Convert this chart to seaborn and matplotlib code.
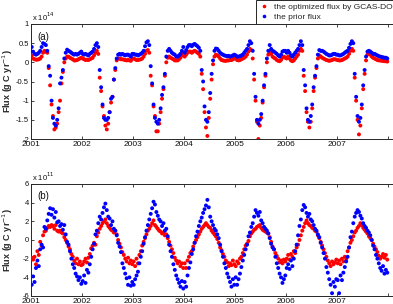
import numpy as np
import pandas as pd
import matplotlib
matplotlib.use("Agg")
import matplotlib.pyplot as plt
from matplotlib.lines import Line2D
from matplotlib.ticker import FuncFormatter, FixedLocator
import seaborn as sns

# ---------------- data ----------------
years = [2001, 2002, 2003, 2004, 2005, 2006, 2007]
bins_per_year = 36  # ~10-day sampling

# panel (a): x 1e14 g C / yr
top_opt = {
    2001: [0.18,0.10,0.08,0.07,0.07,0.08,0.10,0.15,0.25,0.30,0.28,0.25,-0.15,-0.60,-1.10,-1.40,-1.75,-1.70,-1.60,-1.30,-1.00,-0.55,-0.25,0.00,0.10,0.15,0.15,0.12,0.10,0.08,0.05,0.05,0.06,0.08,0.10,0.12],
    2002: [0.10,0.08,0.06,0.07,0.06,0.08,0.10,0.12,0.18,0.25,0.30,0.22,-0.40,-0.75,-1.15,-1.40,-1.65,-1.75,-1.60,-1.30,-1.05,-0.90,-0.45,-0.20,0.05,0.10,0.10,0.08,0.08,0.07,0.06,0.05,0.07,0.05,0.04,0.10],
    2003: [0.10,0.08,0.06,0.06,0.07,0.08,0.10,0.15,0.22,0.30,0.32,0.25,-0.35,-0.60,-1.15,-1.40,-1.80,-1.80,-1.60,-1.30,-0.95,-0.70,-0.35,0.00,0.12,0.15,0.12,0.10,0.08,0.05,0.05,0.05,0.08,0.12,0.18,0.25],
    2004: [0.15,0.20,0.25,0.28,0.28,0.25,0.28,0.30,0.28,0.25,0.22,0.15,-0.30,-0.70,-1.30,-1.70,-1.92,-1.45,-0.95,-0.45,-0.05,0.15,0.20,0.18,0.15,0.10,0.06,0.05,0.04,0.04,0.05,0.05,0.06,0.06,0.08,0.10],
    2005: [0.10,0.06,0.05,0.06,0.08,0.10,0.12,0.15,0.20,0.28,0.35,0.32,0.10,-0.45,-1.00,-1.55,-2.00,-1.65,-1.45,-1.05,-0.65,-0.35,0.00,0.20,0.28,0.22,0.15,0.12,0.10,0.06,0.04,0.03,0.06,0.12,0.15,0.12],
    2006: [0.10,0.15,0.10,0.05,0.03,0.05,0.10,0.15,0.20,0.30,0.35,0.30,-0.35,-0.75,-1.30,-1.55,-1.70,-1.55,-1.20,-0.75,-0.40,-0.15,0.10,0.18,0.15,0.12,0.10,0.08,0.06,0.05,0.04,0.05,0.06,0.08,0.08,0.07],
    2007: [0.06,0.05,0.05,0.06,0.08,0.10,0.12,0.15,0.22,0.30,0.35,0.30,-0.40,-1.00,-1.50,-1.88,-1.65,-1.20,-0.70,-0.30,0.05,0.20,0.22,0.20,0.15,0.12,0.10,0.08,0.06,0.05,0.05,0.04,0.04,0.03,0.03,0.02],
}
top_prior = {
    2001: [0.40,0.28,0.22,0.20,0.22,0.25,0.30,0.40,0.50,0.48,0.45,0.30,-0.10,-0.35,-1.00,-1.45,-1.60,-1.65,-1.50,-1.20,-0.55,-0.40,-0.20,0.10,0.25,0.33,0.30,0.28,0.25,0.22,0.20,0.22,0.20,0.22,0.25,0.28],
    2002: [0.22,0.20,0.22,0.20,0.18,0.22,0.25,0.28,0.35,0.45,0.50,0.40,-0.20,-0.65,-1.10,-1.45,-1.50,-1.50,-1.45,-1.30,-0.95,-0.90,-0.45,-0.15,0.10,0.20,0.22,0.20,0.22,0.20,0.18,0.20,0.20,0.18,0.15,0.22],
    2003: [0.22,0.20,0.20,0.18,0.20,0.22,0.25,0.30,0.42,0.52,0.55,0.45,-0.10,-0.55,-1.10,-1.45,-1.55,-1.60,-1.50,-1.20,-0.85,-0.65,-0.30,0.15,0.30,0.35,0.30,0.25,0.22,0.20,0.15,0.15,0.18,0.22,0.30,0.40],
    2004: [0.25,0.32,0.40,0.45,0.45,0.42,0.46,0.48,0.45,0.42,0.38,0.30,-0.20,-0.50,-1.15,-1.50,-1.55,-1.30,-0.80,-0.30,0.05,0.30,0.36,0.35,0.30,0.25,0.22,0.20,0.18,0.17,0.16,0.17,0.15,0.16,0.18,0.20],
    2005: [0.18,0.15,0.15,0.16,0.18,0.20,0.25,0.30,0.35,0.45,0.55,0.50,0.30,-0.30,-0.90,-1.50,-1.60,-1.50,-1.35,-1.00,-0.60,-0.30,0.10,0.30,0.45,0.35,0.30,0.28,0.25,0.22,0.18,0.15,0.20,0.28,0.30,0.30],
    2006: [0.25,0.30,0.25,0.18,0.15,0.20,0.25,0.30,0.35,0.45,0.55,0.45,-0.20,-0.60,-1.20,-1.50,-1.55,-1.40,-1.10,-0.65,-0.35,-0.10,0.20,0.32,0.30,0.30,0.28,0.25,0.22,0.20,0.18,0.18,0.20,0.22,0.22,0.20],
    2007: [0.20,0.18,0.18,0.20,0.22,0.25,0.28,0.30,0.38,0.48,0.55,0.50,-0.30,-0.90,-1.40,-1.55,-1.45,-1.10,-0.60,-0.20,0.15,0.28,0.30,0.28,0.25,0.22,0.22,0.20,0.18,0.16,0.15,0.14,0.13,0.12,0.12,0.10],
}

# panel (b): x 1e11 g C / yr
bot_opt = {
    2001: [-1.9,-2.1,-1.8,-2.6,-1.2,-1.6,-0.2,-0.6,0.5,0.9,1.0,1.3,1.5,1.4,1.6,1.5,1.2,1.6,1.0,0.9,1.0,0.8,0.7,0.3,0.0,-0.3,-0.7,-1.0,-1.5,-1.8,-2.2,-2.5,-2.0,-2.6,-2.3,-2.7],
    2002: [-2.6,-2.3,-2.0,-2.4,-1.9,-1.5,-0.9,-0.6,-0.3,-0.5,0.4,0.8,1.2,1.5,1.8,2.0,2.2,1.8,1.5,1.3,1.1,1.0,0.8,1.0,0.6,0.0,-0.4,-0.8,-1.3,-1.6,-2.0,-2.3,-1.9,-2.5,-2.2,-2.6],
    2003: [-2.3,-2.8,-2.0,-2.5,-1.6,-1.2,-0.6,-0.2,0.2,0.6,1.0,1.2,1.5,1.8,2.1,1.6,1.4,1.2,1.0,0.9,0.7,0.8,0.5,0.6,0.2,-0.2,-0.6,-1.0,-1.4,-1.9,-2.2,-2.5,-2.3,-2.8,-2.5,-3.0],
    2004: [-2.5,-3.0,-2.2,-1.8,-1.4,-1.2,-0.7,-0.3,0.0,0.3,0.6,0.9,1.2,1.4,1.6,1.8,1.6,1.4,1.3,1.0,0.8,0.6,0.4,0.1,-0.3,-0.8,-1.1,-1.5,-1.8,-2.2,-2.4,-2.8,-2.5,-2.7,-2.2,-2.6],
    2005: [-2.8,-2.3,-2.5,-2.0,-1.8,-1.4,-1.0,-0.6,-0.4,-0.1,0.4,0.7,0.9,1.1,1.2,1.4,1.5,1.6,1.3,1.1,1.0,0.9,0.8,0.7,0.3,-0.2,-0.7,-1.0,-1.4,-1.7,-2.0,-2.4,-2.2,-2.5,-2.1,-2.3],
    2006: [-2.0,-1.6,-2.1,-1.5,-1.8,-1.2,-1.4,-0.8,-0.5,0.0,0.5,1.0,1.4,1.8,2.1,1.8,1.6,1.5,1.3,1.2,1.0,0.9,0.5,0.2,-0.2,-0.6,-1.0,-1.4,-1.8,-2.2,-2.5,-2.8,-2.3,-2.6,-2.4,-2.1],
    2007: [-2.5,-2.2,-2.6,-2.0,-2.3,-1.8,-2.0,-1.2,-0.8,-0.3,0.0,0.4,0.8,1.0,1.3,1.5,1.8,1.6,1.3,1.1,0.9,0.7,0.4,0.2,0.0,-0.4,-0.7,-1.0,-1.3,-1.7,-2.0,-1.8,-1.5,-1.9,-1.6,-2.1],
}
bot_prior = {
    2001: [-4.8,-3.9,-4.5,-3.0,-2.2,-2.8,-1.0,-0.5,-0.8,1.4,1.2,2.1,2.8,3.4,2.7,3.3,2.4,3.0,1.9,2.0,1.5,1.7,1.1,1.6,0.6,-0.2,-0.5,-1.2,-2.0,-2.6,-3.0,-3.6,-3.9,-4.3,-4.0,-4.7],
    2002: [-4.4,-3.8,-4.6,-3.2,-3.5,-2.6,-1.8,-1.0,-0.4,0.6,1.0,1.8,2.5,2.2,2.9,3.5,3.9,3.2,2.5,2.3,1.6,2.0,1.2,1.0,0.5,-0.3,-0.7,-1.3,-2.5,-3.0,-3.6,-4.1,-4.8,-4.0,-4.9,-4.5],
    2003: [-4.8,-4.2,-3.8,-3.4,-2.5,-1.8,-1.2,-0.4,0.3,1.0,1.6,2.2,2.8,3.4,4.1,3.8,3.0,2.6,2.2,2.0,1.5,1.8,1.0,1.2,0.4,-0.5,-1.2,-1.8,-2.6,-3.2,-3.8,-4.2,-4.6,-5.0,-4.4,-5.2],
    2004: [-4.5,-5.0,-3.8,-3.0,-2.4,-1.5,-1.0,-0.3,0.4,0.9,1.5,2.0,2.4,2.9,3.3,3.7,4.3,3.5,2.5,2.0,1.6,1.2,1.0,0.6,0.2,-0.5,-1.2,-1.8,-2.5,-3.0,-3.6,-4.0,-4.5,-5.0,-4.2,-4.8],
    2005: [-4.0,-4.8,-4.2,-3.6,-2.9,-2.2,-1.6,-1.0,-0.5,0.4,0.8,1.4,1.8,2.5,3.2,2.9,2.6,3.0,2.1,1.8,1.4,1.2,1.0,0.7,0.2,-0.4,-0.8,-1.0,-1.8,-2.5,-3.0,-3.6,-4.0,-4.6,-4.2,-3.8],
    2006: [-3.0,-2.6,-3.1,-2.2,-2.8,-2.0,-1.2,-0.5,0.5,1.5,2.2,3.2,3.75,3.5,2.9,2.5,2.8,2.2,2.0,1.6,1.2,1.0,0.6,0.3,-0.3,-0.8,-1.4,-2.0,-2.9,-3.5,-4.2,-4.8,-5.7,-4.5,-5.0,-4.2],
    2007: [-4.3,-5.7,-3.8,-4.3,-3.5,-2.9,-2.3,-1.8,-0.8,0.3,0.9,1.8,2.5,2.9,3.2,3.0,2.6,2.3,1.8,1.5,1.3,1.0,0.8,0.5,0.0,-0.6,-1.0,-1.6,-2.0,-2.5,-3.0,-3.3,-2.8,-3.6,-3.2,-3.5],
}

label_opt = "the optimized flux by GCAS-DOM"
label_prior = "the prior flux"
xtick_years = [2001, 2002, 2003, 2004, 2005, 2006, 2007, 2008]
xtick_labels = ["2001", "2002", "2003", "2004", "2005", "2006", "2007", ""]
top_yticks = [-2, -1.5, -1, -0.5, 0, 0.5, 1]
bot_yticks = [-6, -4, -2, 0, 2, 4, 6]


def to_frame(series_dict, name):
    rows = []
    for y in years:
        vals = series_dict[y]
        for k, v in enumerate(vals):
            rows.append((y + (k + 0.5) / bins_per_year, v, name))
    return pd.DataFrame(rows, columns=["time", "flux", "series"])


df_top = pd.concat([to_frame(top_opt, label_opt), to_frame(top_prior, label_prior)])
df_bot = pd.concat([to_frame(bot_opt, label_opt), to_frame(bot_prior, label_prior)])

# ---------------- style ----------------
sns.set_style("ticks")
plt.rcParams['font.family'] = ['Liberation Sans', 'DejaVu Sans']
plt.rcParams['axes.unicode_minus'] = False
plt.rcParams['xtick.direction'] = 'in'
plt.rcParams['ytick.direction'] = 'in'

palette = {label_opt: "#ff0000", label_prior: "#0000ff"}
axis_col = "#262626"

W, H = 393, 304
fig = plt.figure(figsize=(W / 100, H / 100), dpi=100)
x0 = 31
x_right_px = 398
xmax = 2001 + (x_right_px - x0) / 51.0
ax_w_px = x_right_px - x0

ax1 = fig.add_axes([x0 / W, 1 - 139 / H, ax_w_px / W, 115 / H])
ax2 = fig.add_axes([x0 / W, 1 - 296 / H, ax_w_px / W, 112 / H])

for ax, df, yl, yt, tag, mult in [
    (ax1, df_top, (-2, 1), top_yticks, "(a)", r"x 10$^{14}$"),
    (ax2, df_bot, (-6, 6), bot_yticks, "(b)", r"x 10$^{11}$"),
]:
    sns.scatterplot(data=df, x="time", y="flux", hue="series", palette=palette,
                    s=8, linewidth=0, legend=False, ax=ax, zorder=3)
    ax.set_xlim(2001, xmax)
    ax.set_ylim(*yl)
    ax.xaxis.set_major_locator(FixedLocator(xtick_years))
    ax.set_xticklabels(xtick_labels)
    ax.yaxis.set_major_locator(FixedLocator(yt))
    ax.yaxis.set_major_formatter(FuncFormatter(lambda v, p: "%g" % v))
    ax.tick_params(axis="both", length=2.5, width=0.6, color=axis_col,
                   labelcolor="#111111", top=True, right=True, pad=1.5)
    ax.tick_params(axis="x", labelsize=6)
    ax.tick_params(axis="y", labelsize=5.5)
    for sp in ax.spines.values():
        sp.set_color(axis_col)
        sp.set_linewidth(0.7)
    ax.set_xlabel("")
    ax.set_ylabel(r"Flux (g C yr$^{-1}$)", fontsize=6.5, fontweight="bold")
    ax.yaxis.set_label_coords(-(x0 - 8) / ax_w_px, 0.5)
    ax.yaxis.label.set_va("center")
    ax.text(0.004, 1.005, mult, transform=ax.transAxes, fontsize=5.5,
            ha="left", va="bottom", color="#111111")
    ax.text(0.018, 0.89, tag, transform=ax.transAxes, fontsize=7,
            ha="left", va="center", color="#111111")

handles = [
    Line2D([], [], marker="o", linestyle="none", markersize=2.6,
           markerfacecolor="#ff0000", markeredgewidth=0),
    Line2D([], [], marker="o", linestyle="none", markersize=2.6,
           markerfacecolor="#0000ff", markeredgewidth=0),
]
leg = fig.legend(handles, [label_opt, label_prior], loc="upper left",
                 bbox_to_anchor=(256 / W, 1.0), frameon=True, fancybox=False,
                 fontsize=6, edgecolor=axis_col, framealpha=1,
                 borderaxespad=0, borderpad=0.35, labelspacing=0.25,
                 handlelength=1.2, handletextpad=0.6)
leg.get_frame().set_linewidth(0.7)
leg.set_zorder(10)

fig.savefig("out.png", dpi=100)
